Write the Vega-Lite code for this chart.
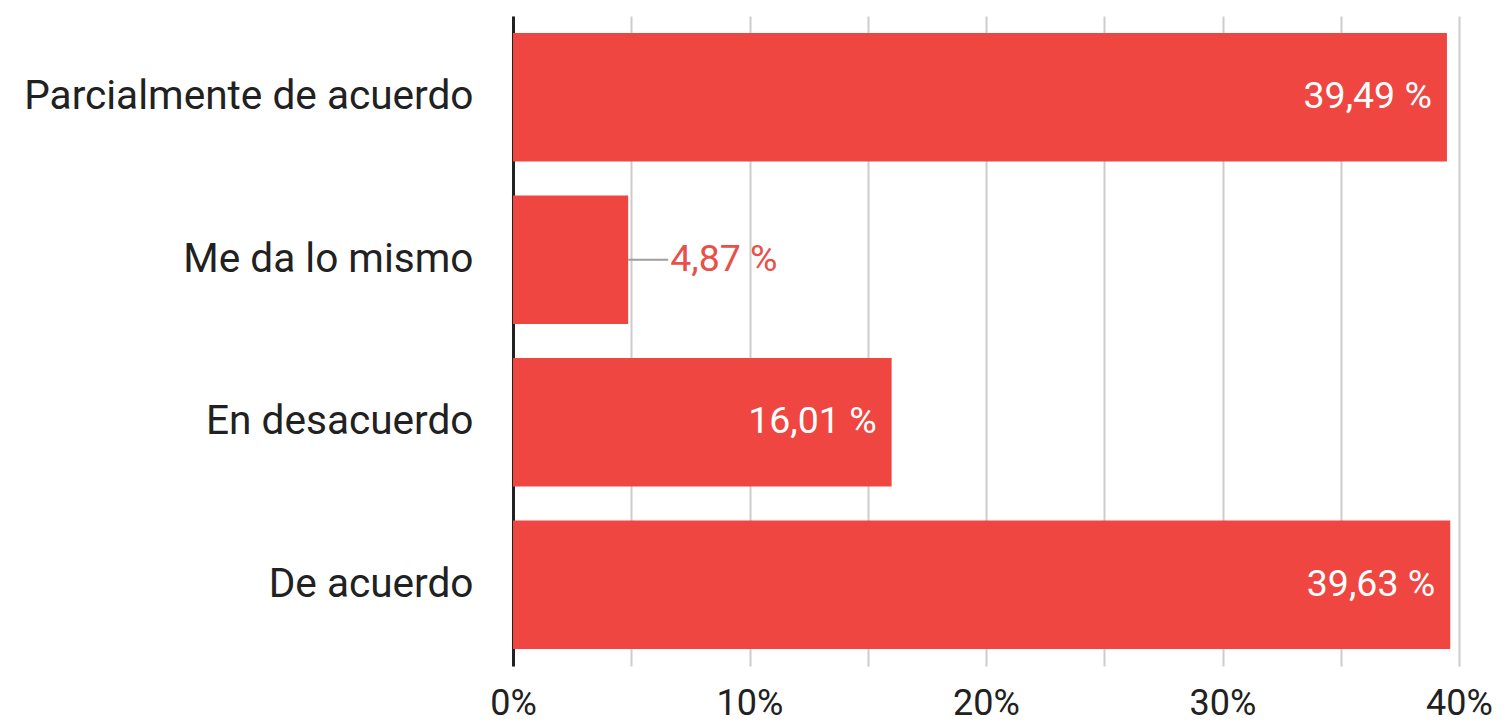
{
  "$schema": "https://vega.github.io/schema/vega-lite/v6.json",
  "width": 946,
  "height": 650,
  "autosize": {"type": "none"},
  "padding": {"left": 513, "top": 16, "right": 47, "bottom": 62},
  "background": "white",
  "config": {
    "view": {"stroke": null},
    "font": "Roboto"
  },
  "data": {
    "values": [
      {"category": "Parcialmente de acuerdo", "value": 39.49, "label": "39,49 %"},
      {"category": "Me da lo mismo", "value": 4.87, "label": "4,87 %"},
      {"category": "En desacuerdo", "value": 16.01, "label": "16,01 %"},
      {"category": "De acuerdo", "value": 39.63, "label": "39,63 %"}
    ]
  },
  "encoding": {
    "y": {
      "field": "category",
      "type": "nominal",
      "sort": null,
      "scale": {"paddingInner": 0.21, "paddingOuter": 0.105},
      "axis": {
        "title": null,
        "ticks": false,
        "domainColor": "#212121",
        "domainWidth": 3,
        "labelFont": "Roboto",
        "labelFontSize": 40.6,
        "labelColor": "#212121",
        "labelPadding": 40,
        "labelLimit": 600,
        "grid": false
      }
    }
  },
  "layer": [
    {
      "mark": {"type": "bar", "color": "#EF4641"},
      "encoding": {
        "x": {
          "field": "value",
          "type": "quantitative",
          "scale": {"domain": [0, 40], "nice": false},
          "axis": {
            "title": null,
            "values": [0, 5, 10, 15, 20, 25, 30, 35, 40],
            "labelExpr": "datum.value % 10 === 0 ? datum.value + '%' : ''",
            "domain": false,
            "ticks": false,
            "grid": true,
            "gridColor": "#cccccc",
            "gridWidth": 2,
            "labelFont": "Roboto",
            "labelFontSize": 36,
            "labelColor": "#212121",
            "labelPadding": 20,
            "labelFlush": false
          }
        }
      }
    },
    {
      "transform": [{"filter": "datum.value < 10"}],
      "mark": {"type": "rule", "color": "#9e9e9e", "strokeWidth": 2, "x2Offset": 40},
      "encoding": {
        "x": {"field": "value", "type": "quantitative"},
        "x2": {"field": "value"}
      }
    },
    {
      "transform": [{"filter": "datum.value < 10"}],
      "mark": {"type": "text", "align": "left", "baseline": "middle", "dx": 42, "fontSize": 37.5, "color": "#E8504A", "font": "Roboto"},
      "encoding": {
        "x": {"field": "value", "type": "quantitative"},
        "text": {"field": "label"}
      }
    },
    {
      "transform": [{"filter": "datum.value >= 10"}],
      "mark": {"type": "text", "align": "right", "baseline": "middle", "dx": -15, "fontSize": 37.5, "color": "white", "font": "Roboto"},
      "encoding": {
        "x": {"field": "value", "type": "quantitative"},
        "text": {"field": "label"}
      }
    }
  ]
}
